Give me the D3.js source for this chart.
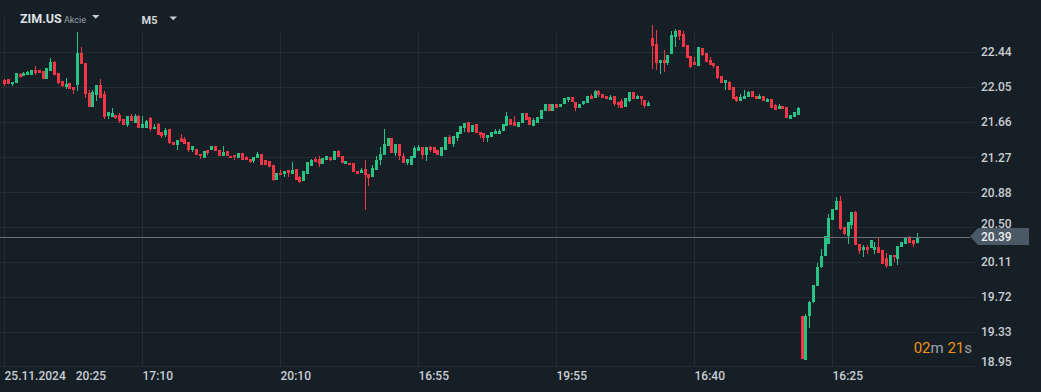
<!DOCTYPE html>
<html><head><meta charset="utf-8">
<script src="https://cdn.jsdelivr.net/npm/d3@7"></script>
<style>
html,body{margin:0;padding:0;background:#171f26;overflow:hidden}
svg{display:block;font-family:Roboto,"Noto Sans",sans-serif}
</style></head><body>
<svg id="chart" width="1041" height="392"></svg>
<script>
const open=[22.13,22.14,22.08,22.10,22.20,22.17,22.19,22.19,22.24,22.24,22.23,22.14,22.23,22.33,22.21,22.12,22.05,22.10,22.05,22.07,
22.43,22.32,21.98,21.83,21.96,22.07,21.97,21.73,21.72,21.74,21.74,21.70,21.63,21.73,21.65,21.73,21.60,21.60,21.71,21.58,
21.64,21.55,21.52,21.58,21.44,21.41,21.48,21.47,21.44,21.35,21.36,21.31,21.26,21.35,21.35,21.40,21.35,21.29,21.34,21.29,
21.30,21.26,21.32,21.27,21.25,21.23,21.26,21.31,21.24,21.23,21.18,21.02,21.10,21.08,21.13,21.08,21.14,21.05,21.01,21.09,
21.17,21.25,21.25,21.20,21.24,21.27,21.24,21.34,21.29,21.20,21.21,21.21,21.12,21.10,21.14,21.09,21.05,21.13,21.24,21.30,
21.40,21.48,21.32,21.42,21.29,21.21,21.19,21.26,21.34,21.38,21.30,21.39,21.38,21.35,21.29,21.35,21.50,21.42,21.48,21.53,
21.60,21.66,21.55,21.64,21.55,21.54,21.48,21.50,21.53,21.53,21.56,21.62,21.70,21.66,21.61,21.65,21.76,21.72,21.62,21.65,
21.70,21.79,21.86,21.79,21.86,21.83,21.86,21.91,21.94,21.89,21.82,21.86,21.87,21.95,21.93,22.01,21.97,21.95,21.91,21.95,
21.89,21.90,21.83,21.90,22.00,21.92,21.95,21.91,21.84,22.60,22.53,22.32,22.35,22.32,22.42,22.61,22.68,22.64,22.52,22.40,
22.33,22.28,22.48,22.43,22.35,22.32,22.28,22.17,22.10,22.11,22.05,21.94,21.90,21.92,21.94,22.01,21.95,21.92,21.95,21.89,
21.92,21.85,21.81,21.84,21.83,21.70,21.72,21.74,19.51,19.02,19.51,19.66,19.84,20.05,20.18,20.31,20.58,20.69,20.79,20.50,
20.40,20.52,20.66,20.31,20.24,20.27,20.26,20.24,20.28,20.24,20.15,20.06,20.19,20.14,20.27,20.31,20.38,20.35,20.32];
const high=[22.14,22.14,22.11,22.21,22.21,22.22,22.23,22.24,22.28,22.24,22.23,22.26,22.37,22.34,22.21,22.12,22.15,22.10,22.05,22.66,
22.50,22.32,22.02,22.02,22.07,22.14,22.01,21.77,21.82,21.74,21.76,21.70,21.73,21.75,21.75,21.74,21.73,21.68,21.72,21.64,
21.65,21.55,21.60,21.59,21.44,21.46,21.53,21.50,21.44,21.40,21.36,21.31,21.34,21.35,21.40,21.40,21.35,21.40,21.34,21.29,
21.30,21.32,21.32,21.29,21.25,21.27,21.33,21.31,21.24,21.23,21.18,21.10,21.13,21.12,21.13,21.22,21.14,21.06,21.12,21.22,
21.25,21.27,21.28,21.26,21.29,21.27,21.34,21.35,21.29,21.23,21.21,21.21,21.12,21.15,21.24,21.09,21.19,21.29,21.39,21.58,
21.49,21.48,21.42,21.42,21.32,21.25,21.28,21.40,21.41,21.38,21.39,21.40,21.38,21.35,21.38,21.50,21.52,21.51,21.55,21.62,
21.65,21.66,21.63,21.64,21.55,21.54,21.52,21.55,21.58,21.59,21.64,21.77,21.70,21.73,21.66,21.76,21.76,21.72,21.71,21.72,
21.80,21.86,21.86,21.86,21.86,21.86,21.93,21.94,21.94,21.89,21.86,21.90,21.95,21.97,22.02,22.02,21.97,21.95,21.96,21.95,
21.89,21.92,21.93,22.00,22.00,21.96,21.95,21.91,21.90,22.74,22.68,22.35,22.46,22.41,22.67,22.69,22.68,22.67,22.52,22.40,
22.39,22.50,22.48,22.43,22.38,22.32,22.28,22.17,22.13,22.12,22.05,21.95,21.97,22.02,22.01,22.01,21.95,21.97,21.95,21.93,
21.92,21.86,21.86,21.84,21.83,21.74,21.77,21.83,19.51,19.53,19.68,19.85,20.10,20.25,20.40,20.64,20.70,20.83,20.84,20.50,
20.55,20.66,20.67,20.31,20.30,20.30,20.35,20.33,20.37,20.24,20.21,20.19,20.19,20.29,20.33,20.38,20.40,20.35,20.43];
const low=[22.06,22.08,22.06,22.10,22.15,22.17,22.19,22.19,22.19,22.21,22.14,22.14,22.23,22.19,22.09,22.05,22.03,22.03,21.97,22.01,
22.31,21.93,21.83,21.83,21.90,21.93,21.70,21.70,21.72,21.70,21.65,21.63,21.61,21.67,21.65,21.60,21.60,21.60,21.56,21.58,
21.52,21.48,21.50,21.42,21.41,21.35,21.44,21.42,21.33,21.33,21.30,21.25,21.26,21.30,21.35,21.34,21.29,21.29,21.29,21.26,
21.24,21.26,21.24,21.24,21.21,21.21,21.26,21.19,21.18,21.16,21.01,21.02,21.07,21.05,21.05,21.08,21.02,20.99,21.01,21.09,
21.17,21.22,21.16,21.20,21.24,21.23,21.24,21.27,21.21,21.20,21.18,21.11,21.09,21.10,20.69,20.95,21.05,21.13,21.18,21.30,
21.40,21.32,21.28,21.24,21.21,21.19,21.19,21.26,21.34,21.25,21.23,21.33,21.32,21.30,21.29,21.35,21.42,21.38,21.45,21.53,
21.55,21.54,21.55,21.54,21.48,21.44,21.44,21.50,21.53,21.53,21.56,21.62,21.63,21.62,21.61,21.65,21.69,21.63,21.62,21.65,
21.70,21.79,21.79,21.79,21.82,21.83,21.86,21.88,21.89,21.78,21.82,21.85,21.87,21.92,21.93,21.94,21.93,21.92,21.91,21.84,
21.82,21.82,21.83,21.88,21.92,21.92,21.85,21.82,21.84,22.25,22.24,22.20,22.22,22.30,22.42,22.50,22.57,22.50,22.37,22.26,
22.30,22.28,22.40,22.33,22.30,22.26,22.14,22.10,22.02,22.02,21.92,21.89,21.90,21.92,21.94,21.94,21.92,21.92,21.90,21.89,
21.82,21.80,21.81,21.81,21.71,21.70,21.72,21.74,19.03,19.02,19.38,19.65,19.84,20.04,20.17,20.31,20.58,20.69,20.46,20.41,
20.31,20.47,20.30,20.20,20.16,20.20,20.26,20.20,20.21,20.09,20.04,20.06,20.11,20.07,20.27,20.31,20.32,20.28,20.32];
const close=[22.08,22.09,22.11,22.21,22.16,22.21,22.22,22.24,22.21,22.21,22.14,22.26,22.33,22.19,22.10,22.06,22.09,22.03,22.02,22.43,
22.31,21.97,21.83,22.00,22.07,21.93,21.72,21.77,21.76,21.71,21.67,21.63,21.73,21.67,21.73,21.60,21.64,21.67,21.58,21.61,
21.52,21.51,21.57,21.43,21.41,21.46,21.44,21.42,21.35,21.40,21.30,21.28,21.34,21.32,21.40,21.34,21.29,21.33,21.29,21.26,
21.27,21.32,21.24,21.24,21.22,21.27,21.31,21.19,21.19,21.16,21.02,21.10,21.07,21.12,21.10,21.13,21.02,21.00,21.12,21.22,
21.24,21.22,21.20,21.26,21.28,21.24,21.34,21.27,21.21,21.23,21.18,21.11,21.09,21.13,21.07,21.04,21.15,21.24,21.31,21.42,
21.49,21.32,21.42,21.29,21.21,21.25,21.28,21.37,21.39,21.30,21.39,21.35,21.32,21.30,21.38,21.50,21.42,21.51,21.55,21.62,
21.65,21.55,21.63,21.54,21.52,21.48,21.52,21.55,21.56,21.56,21.64,21.73,21.63,21.62,21.66,21.76,21.69,21.63,21.69,21.72,
21.80,21.86,21.79,21.86,21.82,21.86,21.93,21.94,21.89,21.82,21.86,21.90,21.95,21.92,22.01,21.96,21.93,21.92,21.94,21.86,
21.85,21.82,21.93,22.00,21.92,21.95,21.92,21.84,21.87,22.51,22.32,22.35,22.32,22.41,22.63,22.67,22.62,22.50,22.37,22.27,
22.30,22.50,22.41,22.33,22.30,22.29,22.15,22.10,22.13,22.02,21.92,21.90,21.94,21.95,22.00,21.94,21.92,21.95,21.90,21.92,
21.82,21.80,21.84,21.81,21.71,21.74,21.77,21.82,19.03,19.51,19.66,19.85,20.05,20.18,20.40,20.60,20.70,20.78,20.47,20.42,
20.55,20.66,20.30,20.23,20.27,20.24,20.35,20.28,20.21,20.09,20.06,20.19,20.16,20.29,20.33,20.38,20.32,20.31,20.39];

const priceTicks=[22.44,22.05,21.66,21.27,20.88,20.50,20.11,19.72,19.33,18.95];
const timeLabels=["25.11.2024","17:10","20:10","16:55","19:55","16:40","16:25"];
const firstTime="20:25";
const barsPerLabel=36;
const lastPrice=20.39;
const symbol="ZIM.US", symbolType="Akcie", timeframe="M5";
const countdownParts=[["02","num"],["m","unit"],[" 21","num"],["s","unit"]];

const W=1041,H=392;
const C={bg:"#171f26",grid:"#232d35",up:"#26c385",down:"#f23645",text:"#c9ced3",
  priceLine:"#67727c",priceTag:"#4a5965",orange:"#f0920f",unit:"#9aa3ab"};

const svg=d3.select("#chart");
svg.append("rect").attr("width",W).attr("height",H).attr("fill",C.bg);

const x=d3.scaleLinear().domain([0,252]).range([4.3,970.2]);
const y=d3.scaleLinear().domain([18.95,22.44]).range([366.3,52]);
const plotRight=975, plotBottom=366;

// horizontal grid
svg.append("g").selectAll("line").data(priceTicks).join("line")
  .attr("x1",0).attr("x2",plotRight)
  .attr("y1",d=>Math.round(y(d))+0.5).attr("y2",d=>Math.round(y(d))+0.5)
  .attr("stroke",C.grid).attr("stroke-width",1);

// vertical grid
const gridIdx=timeLabels.map((_,k)=>k*barsPerLabel);
svg.append("g").selectAll("line").data(gridIdx).join("line")
  .attr("x1",d=>Math.round(x(d))+0.5).attr("x2",d=>Math.round(x(d))+0.5)
  .attr("y1",d=>d===0?18:31).attr("y2",plotBottom)
  .attr("stroke",C.grid).attr("stroke-width",1);

// candles
const bars=open.map((o,i)=>({i,o,h:high[i],l:low[i],c:close[i]}));
const g=svg.append("g");
const cg=g.selectAll("g").data(bars).join("g")
  .attr("fill",d=>d.c>=d.o?C.up:C.down);
cg.append("rect")
  .attr("x",d=>Math.round(x(d.i)))
  .attr("width",1)
  .attr("y",d=>Math.round(y(d.h)))
  .attr("height",d=>Math.max(1,Math.round(y(d.l))-Math.round(y(d.h))));
cg.append("rect")
  .attr("x",d=>Math.round(x(d.i))-1)
  .attr("width",3)
  .attr("y",d=>Math.round(y(Math.max(d.o,d.c))))
  .attr("height",d=>Math.max(1,Math.round(y(Math.min(d.o,d.c)))-Math.round(y(Math.max(d.o,d.c)))));

// current price line
const ty=y(lastPrice);
const ly=Math.round(ty)+0.5;
svg.append("line").attr("x1",0).attr("x2",970).attr("y1",ly).attr("y2",ly)
  .attr("stroke",C.priceLine).attr("stroke-width",1);

// y labels (pushed away from the price tag / bottom edge like the original)
function labelY(v){
  let p=y(v);
  if(Math.abs(p-ty)<14) p = p<ty ? ty-13 : ty+13;
  return Math.min(p,361.5);
}
svg.append("g").selectAll("text").data(priceTicks).join("text")
  .attr("x",981).attr("y",d=>labelY(d))
  .attr("dy","0.35em")
  .attr("fill",C.text).attr("font-size",12).attr("font-weight",500)
  .text(d=>d.toFixed(2));

// price tag
svg.append("path")
  .attr("d",`M970,${ty} L978,${ty-8.5} L1029,${ty-8.5} L1029,${ty+8.5} L978,${ty+8.5} Z`)
  .attr("fill",C.priceTag);
svg.append("text").attr("x",981).attr("y",ty).attr("dy","0.35em")
  .attr("fill","#eef0f2").attr("font-size",12).attr("font-weight",500)
  .text(lastPrice.toFixed(2));

// x labels
const xl=svg.append("g").selectAll("text").data(timeLabels).join("text")
  .attr("x",(d,k)=>Math.round(x(k*barsPerLabel))+0.5)
  .attr("y",380)
  .attr("fill",C.text).attr("font-size",12).attr("font-weight",500)
  .text(d=>d);
xl.filter((d,k)=>k===0).append("tspan").attr("dx",10).text(firstTime);

// header
svg.append("text").attr("x",20).attr("y",23).attr("fill","#dde1e4")
  .attr("font-size",12.5).attr("font-weight",700).text(symbol);
svg.append("text").attr("x",64).attr("y",22.5).attr("fill","#9aa3ab")
  .attr("font-size",9).text(symbolType);
svg.append("path").attr("d","M92,15 L99.5,15 L95.75,18.8 Z").attr("fill","#c9ced3");
svg.append("text").attr("x",141.5).attr("y",24).attr("fill","#d3d7db")
  .attr("font-size",11).attr("font-weight",700).text(timeframe);
svg.append("path").attr("d","M169.5,16.5 L177,16.5 L173.25,20.3 Z").attr("fill","#c9ced3");

// countdown
const ct=svg.append("text").attr("x",972).attr("y",352.5).attr("text-anchor","end")
  .attr("font-size",15).style("white-space","pre");
ct.selectAll("tspan").data(countdownParts).join("tspan")
  .attr("fill",d=>d[1]==="num"?C.orange:C.unit).text(d=>d[0]);
</script>
</body></html>
